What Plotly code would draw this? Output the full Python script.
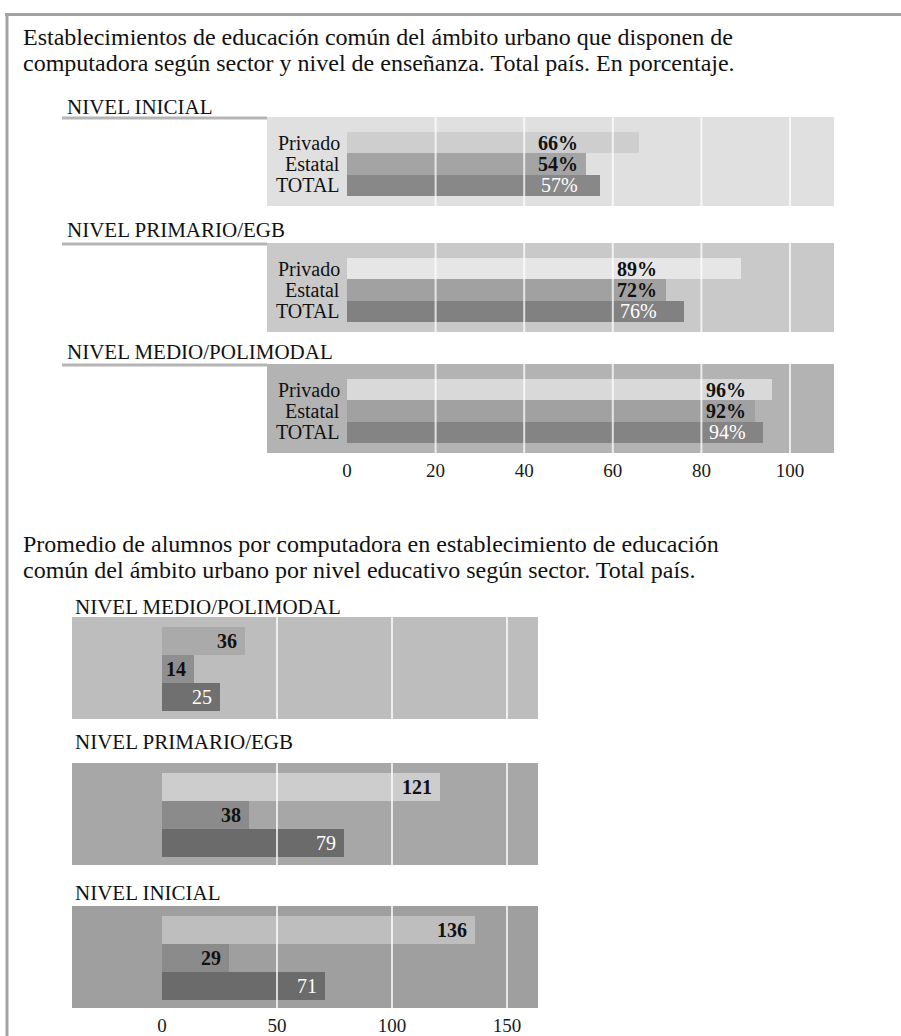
import plotly.graph_objects as go

# ---- data ----
sectores = ["Privado", "Estatal", "TOTAL"]

niveles_pct = ["NIVEL INICIAL", "NIVEL PRIMARIO/EGB", "NIVEL MEDIO/POLIMODAL"]
pct_privado = [66, 89, 96]
pct_estatal = [54, 72, 92]
pct_total = [57, 76, 94]
ticks_pct = [0, 20, 40, 60, 80, 100]

niveles_alum = ["NIVEL MEDIO/POLIMODAL", "NIVEL PRIMARIO/EGB", "NIVEL INICIAL"]
alum_privado = [36, 121, 136]
alum_estatal = [14, 38, 29]
alum_total = [25, 79, 71]
ticks_alum = [0, 50, 100, 150]

titulo_pct = ["Establecimientos de educación común del ámbito urbano que disponen de",
              "computadora según sector y nivel de enseñanza. Total país. En porcentaje."]
titulo_alum = ["Promedio de alumnos por computadora en establecimiento de educación",
               "común del ámbito urbano por nivel educativo según sector. Total país."]

# ---- page geometry (pixels) ----
W, H = 901, 1036
SERIF = "Liberation Serif, Times New Roman, serif"


def px(x):
    return x / W


def py(y):
    return 1 - y / H


# percentage panels
TOP = dict(left=267, right=834, zero=347, scale=4.43,
           tops=[117, 243, 364], height=89, bar=21.33, pad=15,
           label_y=[107, 230, 352], label_x=65)
# students-per-computer panels
BOT = dict(left=72, right=538, zero=162, scale=2.3,
           tops=[617, 763, 906], height=102, bar=28, pad=10,
           label_y=[607, 742, 893], label_x=73)

panel_bg_top = ["#e0e0e0", "#c9c9c9", "#b3b3b3"]
bar_cols_top = [["#cecece", "#a4a4a4", "#888888"],
                ["#e6e6e6", "#a1a1a1", "#818181"],
                ["#d9d9d9", "#a1a1a1", "#848484"]]
panel_bg_bot = ["#bdbdbd", "#a7a7a7", "#9f9f9f"]
bar_cols_bot = [["#aaaaaa", "#8f8f8f", "#707070"],
                ["#cdcdcd", "#8b8b8b", "#6b6b6b"],
                ["#bebebe", "#8b8b8b", "#6b6b6b"]]

fig = go.Figure()
shapes = []
annotations = []
layout_axes = {}

ypos = [2, 1, 0]  # Privado on top, TOTAL at bottom


def add_panel(idx, geo, k, vals, cols, bg, gridvals, ticks, show_ticks, pct):
    top = geo["tops"][k]
    bottom = top + geo["height"]
    xr = [(geo["left"] - geo["zero"]) / geo["scale"], (geo["right"] - geo["zero"]) / geo["scale"]]
    y_hi = 2.5 + geo["pad"] / geo["bar"]
    y_lo = y_hi - geo["height"] / geo["bar"]
    xa = "x" if idx == 1 else f"x{idx}"
    ya = "y" if idx == 1 else f"y{idx}"
    xkey = "xaxis" if idx == 1 else f"xaxis{idx}"
    ykey = "yaxis" if idx == 1 else f"yaxis{idx}"

    layout_axes[xkey] = dict(
        domain=[px(geo["left"]), px(geo["right"])], range=xr, anchor=ya,
        showgrid=False, zeroline=False, showline=False, fixedrange=True,
        tickvals=ticks if show_ticks else [], ticks="",
        showticklabels=show_ticks, ticklabelstandoff=4,
        tickfont=dict(family=SERIF, size=19, color="#1a1a1a"))
    layout_axes[ykey] = dict(
        domain=[py(bottom), py(top)], range=[y_lo, y_hi], anchor=xa,
        showgrid=False, zeroline=False, showline=False, showticklabels=False,
        fixedrange=True)

    fig.add_trace(go.Bar(x=vals, y=ypos, orientation="h", width=1,
                         marker=dict(color=cols, line=dict(width=0)),
                         xaxis=xa, yaxis=ya, showlegend=False, hoverinfo="skip"))

    shapes.append(dict(type="rect", xref="paper", yref="paper",
                       x0=px(geo["left"]), x1=px(geo["right"]), y0=py(bottom), y1=py(top),
                       fillcolor=bg, line=dict(width=0), layer="below"))
    for g in gridvals:
        shapes.append(dict(type="line", xref=xa, yref=f"{ya} domain", x0=g, x1=g, y0=0, y1=1,
                           line=dict(color="rgba(255,255,255,0.75)", width=2), layer="above"))

    if pct:
        label_x = min(vals) - 1.5
        for v, y, i in zip(vals, ypos, range(3)):
            white = i == 2
            annotations.append(dict(
                x=label_x, y=y, xref=xa, yref=ya, xanchor="right", yanchor="middle",
                text=f"{v}%" if white else f"<b>{v}%</b>", showarrow=False,
                font=dict(family=SERIF, size=20, color="#ffffff" if white else "#111111")))
        for s, y in zip(sectores, ypos):
            annotations.append(dict(
                x=0, y=y, xref=xa, yref=ya, xanchor="right", yanchor="middle", xshift=-5,
                text=s, showarrow=False, font=dict(family=SERIF, size=20, color="#111111")))
    else:
        for v, y, i in zip(vals, ypos, range(3)):
            white = i == 2
            annotations.append(dict(
                x=v, y=y, xref=xa, yref=ya, xanchor="right", yanchor="middle", xshift=-6,
                text=str(v) if white else f"<b>{v}</b>", showarrow=False,
                font=dict(family=SERIF, size=20, color="#ffffff" if white else "#111111")))

    annotations.append(dict(x=px(geo["label_x"]), y=py(geo["label_y"][k]), xref="paper",
                            yref="paper", xanchor="left", yanchor="middle",
                            text=(niveles_pct if pct else niveles_alum)[k], showarrow=False,
                            font=dict(family=SERIF, size=21, color="#111111")))


# percentage chart
for k in range(3):
    vals = [pct_privado[k], pct_estatal[k], pct_total[k]]
    add_panel(k + 1, TOP, k, vals, bar_cols_top[k], panel_bg_top[k],
              [20, 40, 60, 80, 100], ticks_pct, k == 2, True)
    top = TOP["tops"][k]
    shapes.append(dict(type="line", xref="paper", yref="paper",
                       x0=px(62), x1=px(TOP["left"]), y0=py(top + 1), y1=py(top + 1),
                       line=dict(color="#b5b5b5", width=3)))

# students-per-computer chart
for k in range(3):
    vals = [alum_privado[k], alum_estatal[k], alum_total[k]]
    add_panel(k + 4, BOT, k, vals, bar_cols_bot[k], panel_bg_bot[k],
              [50, 100, 150], ticks_alum, k == 2, False)

# headings
for lines, ys in ((titulo_pct, [37, 63]), (titulo_alum, [544, 570])):
    for line, y in zip(lines, ys):
        annotations.append(dict(x=px(21), y=py(y), xref="paper", yref="paper", xanchor="left",
                                yanchor="middle", text=line, showarrow=False,
                                font=dict(family=SERIF, size=24, color="#111111")))

# page frame
shapes.append(dict(type="line", xref="paper", yref="paper", x0=px(5), x1=1,
                   y0=py(14.5), y1=py(14.5), line=dict(color="#a3a3a3", width=3)))
shapes.append(dict(type="line", xref="paper", yref="paper", x0=px(7), x1=px(7),
                   y0=py(14), y1=0, line=dict(color="#a3a3a3", width=3)))

fig.update_layout(
    width=W, height=H, autosize=False,
    margin=dict(l=0, r=0, t=0, b=0),
    paper_bgcolor="#ffffff", plot_bgcolor="rgba(0,0,0,0)",
    bargap=0, shapes=shapes, annotations=annotations,
    **layout_axes,
)

fig.write_html("out.html")
